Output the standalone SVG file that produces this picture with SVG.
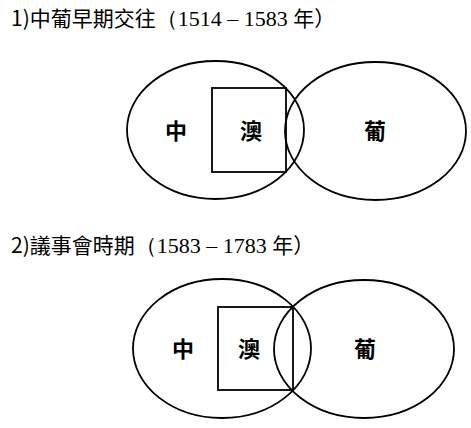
<svg xmlns="http://www.w3.org/2000/svg" width="471" height="428" viewBox="0 0 471 428">
<style>
.shape{fill:none;stroke:#000;stroke-width:1.8}
.title{font-family:"Noto Sans CJK TC","Noto Sans CJK SC",sans-serif;font-size:21px;fill:#000}
.num{font-family:"Liberation Serif",serif;font-size:22px}
.lbl{font-family:"Noto Sans CJK TC","Noto Sans CJK SC",sans-serif;font-size:22px;font-weight:bold;fill:#000;text-anchor:middle;dominant-baseline:central}
</style>
<rect width="471" height="428" fill="#fff"/>
<text class="title" x="11" y="26">1)中葡早期交往<tspan class="num">（1514 – 1583 </tspan>年<tspan>）</tspan></text>
<g id="d1-china"><ellipse class="shape" cx="215.5" cy="130" rx="88.5" ry="69"/><text class="lbl" x="176" y="129">中</text></g>
<g id="d1-portugal"><ellipse class="shape" cx="375.5" cy="131" rx="90.5" ry="69"/><text class="lbl" x="375" y="129">葡</text></g>
<g id="d1-macau"><rect class="shape" x="212" y="88" width="74" height="84"/><text class="lbl" x="251" y="129">澳</text></g>
<text class="title" x="11" y="253">2)議事會時期<tspan class="num">（1583 – 1783 </tspan>年<tspan>）</tspan></text>
<g id="d2-china"><ellipse class="shape" cx="222" cy="348.5" rx="89" ry="69.5"/><text class="lbl" x="183" y="347">中</text></g>
<g id="d2-portugal"><ellipse class="shape" cx="364" cy="349" rx="90" ry="69"/><text class="lbl" x="365" y="347">葡</text></g>
<g id="d2-macau"><rect class="shape" x="218" y="307" width="75" height="83"/><text class="lbl" x="249" y="347">澳</text></g>
<g id="connectors"/>
</svg>
